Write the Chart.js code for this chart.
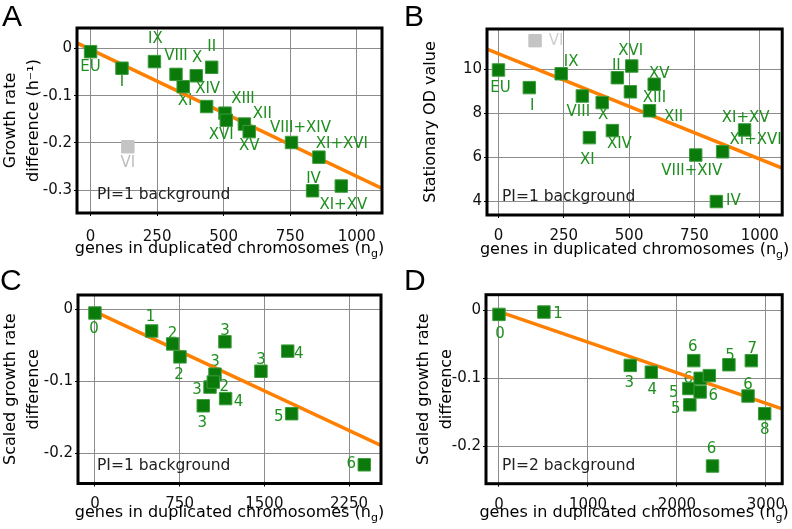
<!DOCTYPE html>
<html>
<head>
<meta charset="utf-8">
<script src="https://cdn.jsdelivr.net/npm/chart.js@4.4.1/dist/chart.umd.min.js"></script>
<style>
  body { margin: 0; background: #fff; }
  #fig { position: relative; width: 792px; height: 529px; overflow: hidden; }
  .panel { position: absolute; }
  .letter { position: absolute; font-family: 'Liberation Sans', Arial, sans-serif; font-size: 30px; line-height: 30px; color: #000; }
</style>
</head>
<body>
<div id="fig">
  <canvas class="panel" id="chartA" width="396" height="264" style="left:0;top:0"></canvas>
  <canvas class="panel" id="chartB" width="396" height="264" style="left:396px;top:0"></canvas>
  <canvas class="panel" id="chartC" width="396" height="265" style="left:0;top:264px"></canvas>
  <canvas class="panel" id="chartD" width="396" height="265" style="left:396px;top:264px"></canvas>
  <div class="letter" style="left:2px;top:1px">A</div>
  <div class="letter" style="left:404px;top:1px">B</div>
  <div class="letter" style="left:0px;top:265px">C</div>
  <div class="letter" style="left:404px;top:265px">D</div>
</div>
<script>
// ---- data ----
// single / double chromosome duplications, PI=1 background (panels A and B)
var chromNames = ['EU', 'I', 'IX', 'VIII', 'XI', 'X', 'II', 'XIV', 'XIII', 'XVI', 'XII', 'XV', 'VIII+XIV', 'XI+XVI', 'IV', 'XI+XV'];
var chromGenes = [0, 118, 240, 321, 348, 397, 455, 436, 505, 510, 578, 596, 755, 858, 834, 942];
var growthDiff = [-0.007, -0.042, -0.028, -0.055, -0.081, -0.058, -0.040, -0.123, -0.137, -0.152, -0.160, -0.176, -0.199, -0.230, -0.301, -0.291];
var stationaryOD = [9.97, 9.17, 9.80, 8.79, 6.90, 8.49, 9.62, 7.22, 8.98, 10.15, 8.12, 9.32, 6.11, 6.26, 4.0, 7.25];

// chromosome VI, shown grey
var outlierNames = ['VI'];
var outlierGenes = [140];
var outlierGrowth = [-0.208];
var outlierOD = [11.30];

// fitted lines (end points)
var fitAGenes = [-50, 1095];
var fitAGrowth = [0.011, -0.296];
var fitBGenes = [-44, 1088];
var fitBOD = [10.92, 5.51];

// panel C: aneuploids, PI=1 background
var cGenes = [0, 502, 688, 753, 1151, 1063, 1019, 1048, 959, 1157, 1470, 1707, 1742, 2385];
var cGrowth = [-0.005, -0.030, -0.048, -0.066, -0.045, -0.090, -0.108, -0.101, -0.134, -0.124, -0.086, -0.058, -0.145, -0.216];
var cExtra = ['0', '1', '2', '2', '3', '3', '3', '2', '3', '4', '3', '4', '5', '6'];
var fitCGenes = [0, 2533];
var fitCGrowth = [-0.003, -0.189];

// panel D: aneuploids, PI=2 background
var dGenes = [0, 505, 1475, 1712, 2189, 2584, 2836, 2799, 2986, 2400, 2134, 2145, 2261, 2261, 2364];
var dGrowth = [-0.006, -0.0025, -0.081, -0.091, -0.074, -0.080, -0.074, -0.126, -0.152, -0.229, -0.115, -0.139, -0.100, -0.120, -0.096];
var dExtra = ['0', '1', '3', '4', '6', '5', '7', '6', '8', '6', '5', '5', '6', '6', ''];
var fitDGenes = [0, 3183];
var fitDGrowth = [-0.002, -0.145];

// tick values
var xTicksAB = [0, 250, 500, 750, 1000];
var xTicksC = [0, 750, 1500, 2250];
var xTicksD = [0, 1000, 2000, 3000];
var yTicksA = [0, -0.1, -0.2, -0.3];
var yTicksB = [4, 6, 8, 10];
var yTicksCD = [0, -0.1, -0.2];

// ---- label placement (pixel offsets from the square) ----
var offA = [[0, 15], [0, 14], [1, -22], [0, -18], [2, 14], [1, -18], [0, -20], [1, -17], [18, -14], [-5, 15], [18, -10], [0, 14], [9, -14], [23, -13], [1, -12], [2, 19]];
var offAOut = [[0, 16]];
var offB = [[2, 18], [3, 18], [10, -12], [-4, 16], [-2, 22], [1, 13], [-1, -12], [7, 14], [24, 6], [-1, -15], [24, 6], [5, -10], [-4, 16], [33, -12], [17, 0], [1, -12]];
var offBOut = [[21, 0]];
var offC = [[-1, 16], [-1, -14], [0, -10], [-1, 18], [0, -11], [0, -12], [-13, 3], [11, 5], [-1, 17], [13, 4], [0, -11], [11, 3], [-13, 3], [-13, -1]];
var offD = [[1, 20], [14, 2], [-1, 18], [1, 18], [-1, -14], [1, -9], [1, -12], [0, -11], [0, 16], [-1, -17], [-15, 5], [-14, 4], [-12, 1], [13, 4], [0, 0]];

var GREEN = '#0a7a0a';
var GREEN_EDGE = '#3c9c3c';
var GREEN_TEXT = '#1f8f1f';
var GREY = '#c4c4c4';
var ORANGE = '#ff8000';
var FONT = '"DejaVu Sans", Verdana, sans-serif';

function toPoints(xs, ys) {
  return xs.map(function (x, i) {
    return { x: x, y: ys[i] };
  });
}

function fmtTick(value) {
  if (value === 0) return '0';
  return Number.isInteger(value) ? String(value) : value.toFixed(1);
}

function drawXTitle(ctx, cx, y) {
  var main = 'genes in duplicated chromosomes (n';
  ctx.font = '16px ' + FONT;
  var w1 = ctx.measureText(main).width;
  var w3 = ctx.measureText(')').width;
  ctx.font = '11px ' + FONT;
  var w2 = ctx.measureText('g').width;
  var x = cx - (w1 + w2 + w3) / 2;
  ctx.textAlign = 'left';
  ctx.textBaseline = 'alphabetic';
  ctx.font = '16px ' + FONT;
  ctx.fillText(main, x, y);
  ctx.font = '11px ' + FONT;
  ctx.fillText('g', x + w1, y + 4);
  ctx.font = '16px ' + FONT;
  ctx.fillText(')', x + w1 + w2, y);
}

function makePanel(canvasId, spec) {
  var area = spec.area;
  var canvas = document.getElementById(canvasId);
  var W = canvas.width, H = canvas.height;

  var decor = {
    id: 'decor' + canvasId,
    beforeDatasetsDraw: function (chart) {
      var ctx = chart.ctx;
      ctx.save();
      // point labels, drawn under the squares
      spec.labelSets.forEach(function (set) {
        var meta = chart.getDatasetMeta(set.dataset);
        ctx.font = '15px ' + FONT;
        ctx.fillStyle = set.color;
        ctx.textAlign = 'center';
        ctx.textBaseline = 'middle';
        meta.data.forEach(function (el, i) {
          if (!set.texts[i]) return;
          ctx.fillText(set.texts[i], el.x + set.offsets[i][0], el.y + set.offsets[i][1]);
        });
      });
      // background note
      var a = chart.chartArea;
      ctx.font = '15.5px ' + FONT;
      ctx.fillStyle = '#222';
      ctx.textAlign = 'left';
      ctx.textBaseline = 'middle';
      ctx.fillText(spec.note, a.left + spec.noteDx, a.bottom - 18);
      ctx.restore();
    },
    afterDraw: function (chart) {
      var a = chart.chartArea, ctx = chart.ctx;
      ctx.save();
      ctx.lineWidth = 3;
      ctx.strokeStyle = '#000';
      ctx.strokeRect(a.left, a.top, a.right - a.left, a.bottom - a.top);
      ctx.fillStyle = '#000';
      drawXTitle(ctx, (a.left + a.right) / 2, a.bottom + spec.xTitleDy);
      // y title, rotated
      var cy = (a.top + a.bottom) / 2;
      ctx.font = '16px ' + FONT;
      ctx.textAlign = 'center';
      ctx.textBaseline = 'middle';
      spec.yTitle.forEach(function (line, i) {
        ctx.save();
        ctx.translate(spec.yTitleX[i], cy);
        ctx.rotate(-Math.PI / 2);
        ctx.fillText(line, 0, 0);
        ctx.restore();
      });
      ctx.restore();
    }
  };

  var tickFont = { family: FONT, size: 15 };

  new Chart(canvas, {
    type: 'scatter',
    data: { datasets: spec.datasets },
    options: {
      responsive: false,
      animation: false,
      layout: { padding: { top: area.top, right: W - area.right, left: 0, bottom: 0 } },
      plugins: { legend: { display: false }, tooltip: { enabled: false } },
      scales: {
        x: {
          type: 'linear',
          min: spec.xMin,
          max: spec.xMax,
          afterBuildTicks: function (scale) {
            scale.ticks = spec.xTicks.map(function (v) { return { value: v }; });
          },
          afterFit: function (scale) {
            scale.height = H - area.bottom;
            scale.paddingLeft = 0;
            scale.paddingRight = 0;
          },
          ticks: { font: tickFont, color: '#111', padding: spec.xTickPad, maxRotation: 0, autoSkip: false, callback: fmtTick },
          grid: { color: '#8c8c8c', lineWidth: 1, tickColor: '#000', tickLength: 3 },
          border: { display: false }
        },
        y: {
          type: 'linear',
          min: spec.yMin,
          max: spec.yMax,
          afterBuildTicks: function (scale) {
            scale.ticks = spec.yTicks.map(function (v) { return { value: v }; });
          },
          afterFit: function (scale) {
            scale.width = area.left;
            scale.paddingTop = 0;
            scale.paddingBottom = 0;
          },
          ticks: { font: tickFont, color: '#111', padding: 2, autoSkip: false, callback: fmtTick },
          grid: { color: '#8c8c8c', lineWidth: 1, tickColor: '#000', tickLength: 3 },
          border: { display: false }
        }
      }
    },
    plugins: [decor]
  });
}

function squares(points, color, edge) {
  return {
    data: points,
    pointStyle: 'rect',
    pointRadius: 8.8,
    backgroundColor: color,
    borderColor: edge,
    borderWidth: 1,
    order: 1
  };
}

function fitLine(points) {
  return {
    type: 'line',
    data: points,
    borderColor: ORANGE,
    borderWidth: 3.5,
    pointRadius: 0,
    fill: false,
    order: 3
  };
}

makePanel('chartA', {
  area: { left: 77, right: 382, top: 28, bottom: 213 },
  xMin: -51, xMax: 1095, yMin: -0.348, yMax: 0.043,
  xTicks: xTicksAB, yTicks: yTicksA, xTickPad: 12,
  datasets: [
    squares(toPoints(chromGenes, growthDiff), GREEN, GREEN_EDGE),
    squares(toPoints(outlierGenes, outlierGrowth), GREY, GREY),
    fitLine(toPoints(fitAGenes, fitAGrowth))
  ],
  labelSets: [
    { dataset: 0, texts: chromNames, offsets: offA, color: GREEN_TEXT },
    { dataset: 1, texts: outlierNames, offsets: offAOut, color: '#bdbdbd' }
  ],
  note: 'PI=1 background', noteDx: 20,
  xTitleDy: 40,
  yTitle: ['Growth rate', 'difference (h\u207B\u00B9)'], yTitleX: [11, 34]
});

makePanel('chartB', {
  area: { left: 91, right: 391.5, top: 29, bottom: 215 },
  xMin: -44, xMax: 1086, yMin: 3.39, yMax: 11.83,
  xTicks: xTicksAB, yTicks: yTicksB, xTickPad: 9,
  datasets: [
    squares(toPoints(chromGenes, stationaryOD), GREEN, GREEN_EDGE),
    squares(toPoints(outlierGenes, outlierOD), GREY, GREY),
    fitLine(toPoints(fitBGenes, fitBOD))
  ],
  labelSets: [
    { dataset: 0, texts: chromNames, offsets: offB, color: GREEN_TEXT },
    { dataset: 1, texts: outlierNames, offsets: offBOut, color: '#cfcfcf' }
  ],
  note: 'PI=1 background', noteDx: 15,
  xTitleDy: 39,
  yTitle: ['Stationary OD value'], yTitleX: [35]
});

makePanel('chartC', {
  area: { left: 78, right: 381, top: 31, bottom: 219.5 },
  xMin: -150, xMax: 2533, yMin: -0.242, yMax: 0.020,
  xTicks: xTicksC, yTicks: yTicksCD, xTickPad: 9,
  datasets: [
    squares(toPoints(cGenes, cGrowth), GREEN, GREEN_EDGE),
    fitLine(toPoints(fitCGenes, fitCGrowth))
  ],
  labelSets: [
    { dataset: 0, texts: cExtra, offsets: offC, color: GREEN_TEXT }
  ],
  note: 'PI=1 background', noteDx: 19,
  xTitleDy: 33,
  yTitle: ['Scaled growth rate', 'difference'], yTitleX: [11, 34]
});

makePanel('chartD', {
  area: { left: 90, right: 393, top: 30.7, bottom: 219.7 },
  xMin: -146, xMax: 3183, yMin: -0.255, yMax: 0.023,
  xTicks: xTicksD, yTicks: yTicksCD, xTickPad: 9,
  datasets: [
    squares(toPoints(dGenes, dGrowth), GREEN, GREEN_EDGE),
    fitLine(toPoints(fitDGenes, fitDGrowth))
  ],
  labelSets: [
    { dataset: 0, texts: dExtra, offsets: offD, color: GREEN_TEXT }
  ],
  note: 'PI=2 background', noteDx: 16,
  xTitleDy: 33,
  yTitle: ['Scaled growth rate', 'difference'], yTitleX: [28, 51]
});
</script>
</body>
</html>
